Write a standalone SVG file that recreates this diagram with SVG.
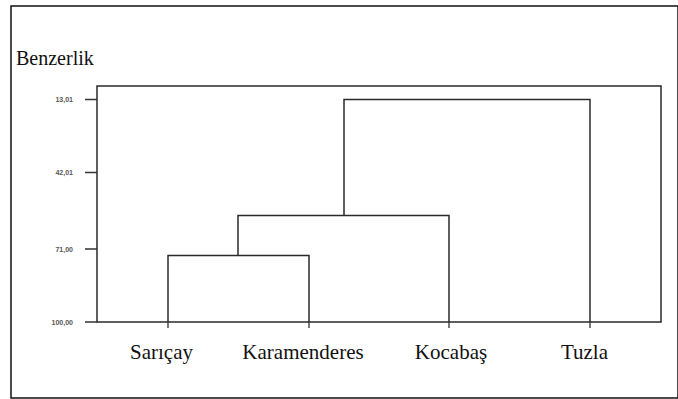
<svg xmlns="http://www.w3.org/2000/svg" width="678" height="399" viewBox="0 0 678 399">
<style>
.frame{fill:none;stroke:#111;stroke-width:1.5}
.ln{fill:none;stroke:#2a2a2a;stroke-width:1.5}
.tk{fill:none;stroke:#333;stroke-width:1.3}
.ax{font-family:"Liberation Sans",Arial,sans-serif;font-size:7px;font-weight:bold;fill:#555;text-anchor:end}
.lbl{font-family:"Liberation Serif","Times New Roman",serif;font-size:21px;fill:#111;text-anchor:middle}
.ttl{font-family:"Liberation Serif","Times New Roman",serif;font-size:20px;fill:#111}
</style>
<rect x="0" y="0" width="678" height="399" fill="#fff"/>
<rect class="frame" x="11" y="6" width="667" height="392"/>
<text class="ttl" x="16" y="65">Benzerlik</text>
<g id="axis">
<rect class="ln" x="97" y="86" width="564" height="236"/>
<path class="tk" d="M85 99.5H97M85 172.5H97M85 249H97M85 322H97M168 322V328M309 322V328M449 322V328M590 322V328"/>
<text class="ax" x="73" y="102">13,01</text>
<text class="ax" x="73" y="175">42,01</text>
<text class="ax" x="73" y="251.5">71,00</text>
<text class="ax" x="73" y="324.5">100,00</text>
</g>
<g id="connectors">
<path class="ln" d="M168 322V255.5H309V322"/>
<path class="ln" d="M238 255.5V215.5H449V322"/>
<path class="ln" d="M344 215.5V99.5H590V322"/>
</g>
<g id="n-saricay"><text class="lbl" x="161.5" y="358.5">Sarıçay</text></g>
<g id="n-karamenderes"><text class="lbl" x="303" y="358.5">Karamenderes</text></g>
<g id="n-kocabas"><text class="lbl" x="451" y="358.5">Kocabaş</text></g>
<g id="n-tuzla"><text class="lbl" x="584.5" y="358.5">Tuzla</text></g>
</svg>
